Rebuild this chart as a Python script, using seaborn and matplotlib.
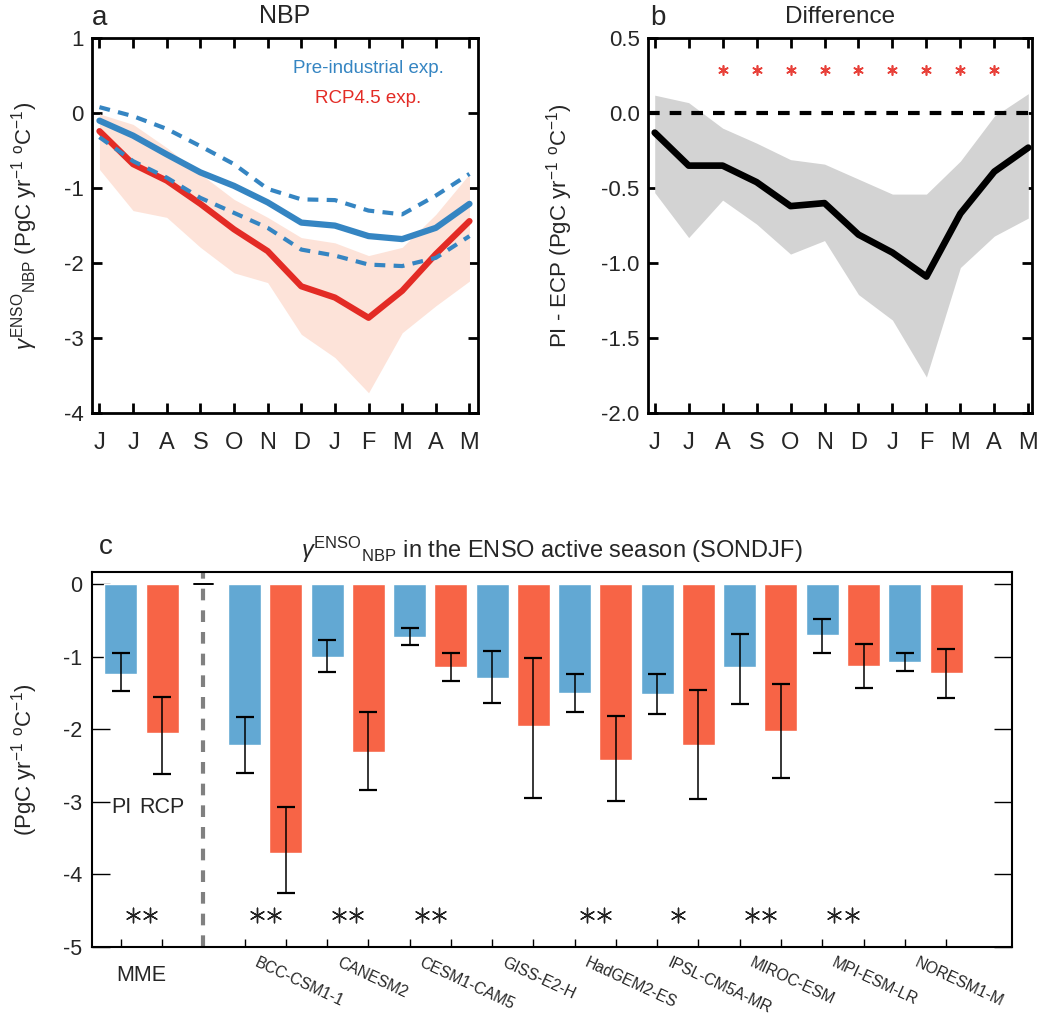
import numpy as np
import pandas as pd
import matplotlib
matplotlib.use('Agg')
import matplotlib.pyplot as plt
import seaborn as sns
from matplotlib.transforms import blended_transform_factory

# ---------------- data ----------------
months = ['J', 'J', 'A', 'S', 'O', 'N', 'D', 'J', 'F', 'M', 'A', 'M']

pi_mean = [-0.10, -0.30, -0.55, -0.79, -0.97, -1.19, -1.46, -1.50, -1.64, -1.68, -1.53, -1.21]
pi_upper = [0.08, -0.04, -0.21, -0.44, -0.68, -1.01, -1.15, -1.16, -1.30, -1.35, -1.10, -0.81]
pi_lower = [-0.32, -0.64, -0.86, -1.13, -1.33, -1.53, -1.82, -1.90, -2.02, -2.04, -1.93, -1.64]

rcp_mean = [-0.24, -0.68, -0.90, -1.21, -1.55, -1.84, -2.31, -2.46, -2.73, -2.37, -1.88, -1.44]
rcp_upper = [-0.01, -0.15, -0.46, -0.81, -1.15, -1.39, -1.66, -1.73, -1.90, -1.79, -1.35, -0.81]
rcp_lower = [-0.75, -1.30, -1.39, -1.79, -2.13, -2.26, -2.95, -3.26, -3.73, -2.93, -2.57, -2.24]

diff_mean = [-0.13, -0.35, -0.35, -0.46, -0.62, -0.60, -0.81, -0.93, -1.09, -0.67, -0.39, -0.23]
diff_upper = [0.12, 0.07, -0.10, -0.20, -0.31, -0.34, -0.44, -0.54, -0.54, -0.32, -0.02, 0.13]
diff_lower = [-0.53, -0.83, -0.58, -0.74, -0.94, -0.85, -1.21, -1.38, -1.76, -1.03, -0.82, -0.70]
diff_sig = [0, 0, 1, 1, 1, 1, 1, 1, 1, 1, 1, 0]
diff_star_y = 0.29

groups = ['MME', 'BCC-CSM1-1', 'CANESM2', 'CESM1-CAM5', 'GISS-E2-H', 'HadGEM2-ES',
          'IPSL-CM5A-MR', 'MIROC-ESM', 'MPI-ESM-LR', 'NORESM1-M']
pi_val = [-1.235, -2.22, -1.00, -0.72, -1.29, -1.50, -1.51, -1.14, -0.70, -1.07]
pi_err_top = [-0.945, -1.83, -0.76, -0.60, -0.92, -1.24, -1.23, -0.68, -0.47, -0.94]
pi_err_bot = [-1.47, -2.60, -1.21, -0.84, -1.64, -1.76, -1.79, -1.65, -0.94, -1.20]
rcp_val = [-2.05, -3.70, -2.31, -1.14, -1.95, -2.42, -2.22, -2.02, -1.12, -1.22]
rcp_err_top = [-1.55, -3.07, -1.76, -0.95, -1.02, -1.82, -1.46, -1.37, -0.82, -0.89]
rcp_err_bot = [-2.62, -4.25, -2.83, -1.33, -2.95, -2.99, -2.96, -2.67, -1.43, -1.56]
sig_count = [2, 2, 2, 2, 0, 2, 1, 2, 2, 0]
sig_star_y = -4.56

# ---------------- style ----------------
sns.set_theme(style='ticks')
plt.rcParams['font.family'] = ['Liberation Sans', 'DejaVu Sans']
plt.rcParams['axes.unicode_minus'] = False
plt.rcParams['mathtext.fontset'] = 'custom'
plt.rcParams['mathtext.rm'] = 'Liberation Sans'
plt.rcParams['mathtext.it'] = 'Liberation Sans:italic'
plt.rcParams['mathtext.bf'] = 'Liberation Sans:bold'

BLUE = '#3585c2'
RED = '#e32b25'
SHADE = '#fde3d9'
GRAY = '#d3d3d3'
BAR_BLUE = '#62a8d3'
BAR_RED = '#f76446'
STAR = (6, 2, 0)

fig = plt.figure(figsize=(10.4, 10.13), dpi=100)
axa = fig.add_axes([0.0885, 0.5923, 0.371, 0.370])
axb = fig.add_axes([0.623, 0.5923, 0.369, 0.370])
axc = fig.add_axes([0.0885, 0.0652, 0.8846, 0.370])

x = np.arange(len(months))
unit_label = r'(PgC yr$^{-1}$ $^{\rm o}$C$^{-1}$)'
gamma = r'$\gamma^{\rm ENSO}{}_{\rm NBP}$'

# ---------------- panel a ----------------
axa.fill_between(x, rcp_lower, rcp_upper, color=SHADE, lw=0)
sns.lineplot(x=x, y=rcp_mean, ax=axa, color=RED, lw=4.5, clip_on=False)
sns.lineplot(x=x, y=pi_mean, ax=axa, color=BLUE, lw=4.5, clip_on=False)
sns.lineplot(x=x, y=pi_upper, ax=axa, color=BLUE, lw=3, linestyle=(0, (2.6, 2.0)), clip_on=False)
sns.lineplot(x=x, y=pi_lower, ax=axa, color=BLUE, lw=3, linestyle=(0, (2.6, 2.0)), clip_on=False)
axa.set_xlim(-0.22, 11.25)
axa.set_ylim(-4, 1)
axa.set_xticks(x)
axa.set_xticklabels(months, fontsize=17)
axa.set_yticks([-4, -3, -2, -1, 0, 1])
axa.set_yticklabels(['-4', '-3', '-2', '-1', '0', '1'], fontsize=16)
axa.tick_params(axis='both', direction='in', length=7, width=2, top=True, right=True, color='black')
axa.tick_params(axis='x', pad=14)
axa.tick_params(axis='y', pad=6)
for s in axa.spines.values():
    s.set_linewidth(2)
    s.set_color('black')
axa.set_ylabel(gamma + ' ' + unit_label, fontsize=16)
axa.yaxis.set_label_coords(-0.135, 0.5)
axa.set_title('NBP', fontsize=18, pad=11)
axa.text(8.0, 0.59, 'Pre-industrial exp.', color=BLUE, ha='center', va='center', fontsize=13.5)
axa.text(8.0, 0.19, 'RCP4.5 exp.', color=RED, ha='center', va='center', fontsize=13.5)
fig.text(92 / 1040, 1 - 25 / 1013, 'a', fontsize=20, va='baseline', ha='left')

# ---------------- panel b ----------------
axb.fill_between(x, diff_lower, diff_upper, color=GRAY, lw=0)
axb.axhline(0, color='black', lw=3, linestyle=(0, (2.8, 2.4)))
sns.lineplot(x=x, y=diff_mean, ax=axb, color='black', lw=4.8, clip_on=False)
sig_x = [i for i, s in enumerate(diff_sig) if s]
sns.scatterplot(x=sig_x, y=[diff_star_y] * len(sig_x), ax=axb, marker=STAR, s=45,
                color='#e8413a', edgecolor='#e8413a', linewidth=1.2, legend=False)
axb.set_xlim(-0.2, 11.1)
axb.set_ylim(-2.0, 0.5)
axb.set_xticks(x)
axb.set_xticklabels(months, fontsize=17)
yt = [-2.0, -1.5, -1.0, -0.5, 0.0, 0.5]
axb.set_yticks(yt)
axb.set_yticklabels([f'{v:.1f}' for v in yt], fontsize=16)
axb.tick_params(axis='both', direction='in', length=7, width=2, top=True, right=True, color='black')
axb.tick_params(axis='x', pad=14)
axb.tick_params(axis='y', pad=6)
for s in axb.spines.values():
    s.set_linewidth(2)
    s.set_color('black')
axb.set_ylabel('PI - ECP ' + unit_label, fontsize=16)
axb.yaxis.set_label_coords(-0.19, 0.5)
axb.set_title('Difference', fontsize=17.5, pad=11)
fig.text(650 / 1040, 1 - 25 / 1013, 'b', fontsize=20, va='baseline', ha='left')

# ---------------- panel c ----------------
pi_pos = [0] + [3 + 2 * i for i in range(len(groups) - 1)]
rcp_pos = [p + 1 for p in pi_pos]
df = pd.DataFrame({
    'pos': pi_pos + rcp_pos,
    'val': pi_val + rcp_val,
    'exp': ['PI'] * len(groups) + ['RCP'] * len(groups),
})
sns.barplot(data=df, x='pos', y='val', hue='exp', palette={'PI': BAR_BLUE, 'RCP': BAR_RED},
            native_scale=True, dodge=False, width=0.8, errorbar=None, saturation=1,
            legend=False, ax=axc)
for pos, v, top, bot in [(pi_pos, pi_val, pi_err_top, pi_err_bot),
                         (rcp_pos, rcp_val, rcp_err_top, rcp_err_bot)]:
    v = np.array(v)
    yerr = [v - np.array(bot), np.array(top) - v]
    axc.errorbar(pos, v, yerr=yerr, fmt='none', ecolor='black', elinewidth=1.1,
                 capsize=6.8, capthick=1.6)
axc.axvline(2, color='#808080', lw=3, linestyle=(0, (2.8, 2.4)))
axc.plot([1.78, 2.22], [0, 0], color='black', lw=1.4)
axc.set_xlim(-0.7, 21.6)
axc.set_ylim(-5, 0.17)
axc.set_xticks(sorted(pi_pos + rcp_pos))
axc.set_xticklabels([])
axc.set_xlabel('')
axc.set_yticks([-5, -4, -3, -2, -1, 0])
axc.set_yticklabels(['-5', '-4', '-3', '-2', '-1', '0'], fontsize=15.5)
axc.tick_params(axis='y', direction='in', length=13, width=1, right=True, pad=7, color='black')
axc.tick_params(axis='x', direction='in', length=6, width=1, color='black')
for s in axc.spines.values():
    s.set_linewidth(1.5)
    s.set_color('black')
axc.set_ylabel(unit_label, fontsize=16)
axc.yaxis.set_label_coords(-0.0565, 0.5)
axc.set_title(gamma + ' in the ENSO active season (SONDJF)', fontsize=17, pad=10)
fig.text(99 / 1040, 1 - 554 / 1013, 'c', fontsize=20, va='baseline', ha='left')

trans = blended_transform_factory(axc.transData, axc.transAxes)
centers = [(p + q) / 2 for p, q in zip(pi_pos, rcp_pos)]
star_x = []
for c, n in zip(centers, sig_count):
    if n == 1:
        star_x.append(c)
    elif n == 2:
        star_x += [c - 0.21, c + 0.21]
sns.scatterplot(x=star_x, y=[sig_star_y] * len(star_x), ax=axc, marker=STAR, s=110,
                color='#222222', edgecolor='#222222', linewidth=1.0, legend=False)
for g, c in zip(groups, centers):
    if g == 'MME':
        axc.text(c, -0.075, g, transform=trans, ha='center', va='center', fontsize=15.5)
    else:
        axc.text(c - 0.16, -0.021, g, transform=trans, ha='left', va='top', rotation=-25,
                 rotation_mode='anchor', fontsize=11.3)
axc.text(pi_pos[0], -3.08, 'PI', ha='center', va='center', fontsize=15.5)
axc.text(rcp_pos[0], -3.08, 'RCP', ha='center', va='center', fontsize=15.5)

fig.savefig('out.png', dpi=100)
